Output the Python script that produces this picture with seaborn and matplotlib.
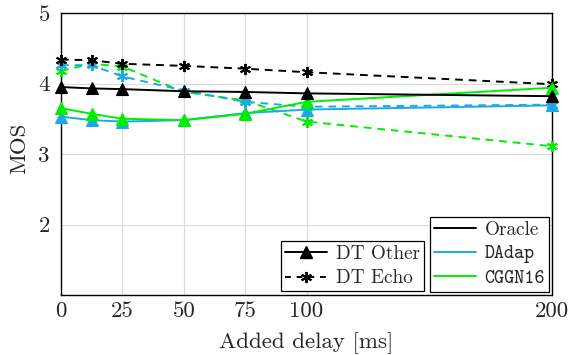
import matplotlib
matplotlib.use("Agg")
import matplotlib.pyplot as plt
from matplotlib.lines import Line2D
import numpy as np
import pandas as pd
import seaborn as sns

# Added delay in ms
delays = [0, 12.5, 25, 50, 75, 100, 200]

# MOS per system, double-talk "other" condition
oracle_other = [3.95, 3.93, 3.92, 3.89, 3.88, 3.86, 3.82]
dadap_other = [3.53, 3.48, 3.46, 3.48, 3.58, 3.63, 3.69]
cggn_other = [3.65, 3.57, 3.50, 3.48, 3.57, 3.74, 3.94]

# MOS per system, double-talk "echo" condition
oracle_echo = [4.34, 4.33, 4.28, 4.25, 4.21, 4.16, 3.99]
dadap_echo = [4.26, 4.26, 4.10, 3.90, 3.74, 3.67, 3.70]
cggn_echo = [4.18, 4.28, 4.24, 3.88, 3.76, 3.46, 3.11]

systems = ["Oracle", "DAdap", "CGGN16"]
conditions = ["DT Other", "DT Echo"]
x_ticks = [0, 25, 50, 75, 100, 200]
y_ticks = [2, 3, 4, 5]

series = {
    ("Oracle", "DT Other"): oracle_other,
    ("DAdap", "DT Other"): dadap_other,
    ("CGGN16", "DT Other"): cggn_other,
    ("Oracle", "DT Echo"): oracle_echo,
    ("DAdap", "DT Echo"): dadap_echo,
    ("CGGN16", "DT Echo"): cggn_echo,
}
rows = []
for (sysname, cond), vals in series.items():
    for d, v in zip(delays, vals):
        rows.append({"delay": d, "MOS": v, "system": sysname, "condition": cond})
df = pd.DataFrame(rows)

sns.set_style("whitegrid")
plt.rcParams["font.family"] = ["cmr10", "DejaVu Serif"]
plt.rcParams["mathtext.fontset"] = "cm"
plt.rcParams["axes.formatter.use_mathtext"] = True

palette = {"Oracle": "#000000", "DAdap": "#1ba9e8", "CGGN16": "#00ee00"}
asterisk = (6, 2, 0)
markers = {"DT Other": "^", "DT Echo": asterisk}
dashes = {"DT Other": "", "DT Echo": (4, 3)}

fig = plt.figure(figsize=(5.7, 3.55), dpi=100)
ax = fig.add_axes([61 / 570, 1 - 295 / 355, 491 / 570, 282 / 355])

# Draw echo curves first, then "other" on top, Oracle last
order = [("CGGN16", "DT Echo"), ("DAdap", "DT Echo"), ("Oracle", "DT Echo"),
         ("DAdap", "DT Other"), ("CGGN16", "DT Other"), ("Oracle", "DT Other")]
for sysname, cond in order:
    sub = df[(df.system == sysname) & (df.condition == cond)]
    sns.lineplot(data=sub, x="delay", y="MOS", ax=ax, color=palette[sysname],
                 marker=markers[cond], markersize=8,
                 markeredgewidth=1.4 if cond == "DT Echo" else 0.8,
                 markeredgecolor=palette[sysname],
                 linewidth=1.4, legend=False, zorder=3, clip_on=False,
                 **({"dashes": dashes[cond]} if cond == "DT Echo" else {}))

ax.set_xlim(0, 200)
ax.set_ylim(1, 5)
ax.set_xticks(x_ticks)
ax.set_yticks(y_ticks)
ax.set_xticklabels([str(t) for t in x_ticks])
ax.set_yticklabels([str(t) for t in y_ticks])
ax.tick_params(labelsize=16.5, length=0)
ax.tick_params(axis="x", pad=5)
ax.tick_params(axis="y", pad=8)
ax.set_xlabel("Added delay [ms]", fontsize=16.5, labelpad=8)
ax.set_ylabel("MOS", fontsize=16.5, labelpad=6)
ax.yaxis.set_label_coords(-0.064, 0.52)
ax.grid(True, color="#d9d9d9", linewidth=0.8)
for s in ax.spines.values():
    s.set_color("black")
    s.set_linewidth(1.0)
    s.set_visible(True)

legend_style = dict(loc="lower right", borderaxespad=0, fontsize=13.8,
                    frameon=True, fancybox=False, edgecolor="black",
                    framealpha=1, handlelength=2.2, handletextpad=0.45,
                    labelspacing=0.33, borderpad=0.2)

# Legend for the condition (marker / line style)
cond_handles = [
    Line2D([], [], color="black", marker="^", markersize=8, linewidth=1.4),
    Line2D([], [], color="black", marker=asterisk, markersize=8,
           markeredgewidth=1.4, linewidth=1.4, dashes=(3, 3)),
]
leg1 = ax.legend(cond_handles, conditions, bbox_to_anchor=(0.739, 0.014),
                 **legend_style)
leg1.get_frame().set_linewidth(0.9)
ax.add_artist(leg1)

# Legend for the system (colour)
sys_handles = [Line2D([], [], color=palette[s], linewidth=1.4) for s in systems]
leg2 = ax.legend(sys_handles, systems, bbox_to_anchor=(0.994, 0.011),
                 **legend_style)
leg2.get_frame().set_linewidth(0.9)
for txt in leg2.get_texts()[1:]:
    txt.set_family(["cmtt10", "DejaVu Sans Mono"])

fig.savefig("out.png", dpi=100)
